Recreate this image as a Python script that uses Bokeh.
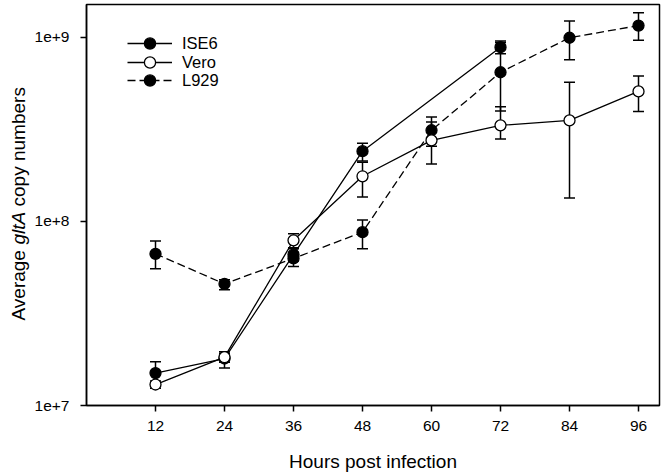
import math
from bokeh.plotting import figure
from bokeh.layouts import row
from bokeh.models import (ColumnDataSource, Whisker, TeeHead, FixedTicker, Legend,
                          LegendItem, CustomJSTickFormatter)
from bokeh.core.properties import value
from bokeh.embed import file_html
from bokeh.resources import INLINE

# ---------------- data ----------------
x_ticks = [12, 24, 36, 48, 60, 72, 84, 96]
y_ticks = [1e7, 1e8, 1e9]

ise6_hours = [12, 24, 36, 48, 72]
ise6 = [1.50e7, 1.80e7, 6.6e7, 2.41e8, 8.85e8]
ise6_upper = [1.73e7, 1.96e7, 7.1e7, 2.66e8, 9.55e8]
ise6_lower = [1.30e7, 1.60e7, 6.1e7, 2.13e8, 8.15e8]

vero_hours = [12, 24, 36, 48, 60, 72, 84, 96]
vero = [1.30e7, 1.83e7, 7.9e7, 1.76e8, 2.76e8, 3.33e8, 3.54e8, 5.09e8]
vero_upper = [1.36e7, 1.92e7, 8.57e7, 2.10e8, 3.47e8, 4.20e8, 5.71e8, 6.17e8]
vero_lower = [1.24e7, 1.72e7, 7.2e7, 1.36e8, 2.05e8, 2.81e8, 1.34e8, 3.96e8]

l929_hours = [12, 24, 36, 48, 60, 72, 84, 96]
l929 = [6.67e7, 4.58e7, 6.3e7, 8.75e7, 3.13e8, 6.47e8, 9.96e8, 1.16e9]
l929_upper = [7.82e7, 4.82e7, 6.8e7, 1.02e8, 3.69e8, 9.4e8, 1.23e9, 1.36e9]
l929_lower = [5.53e7, 4.26e7, 5.7e7, 7.1e7, 2.56e8, 3.98e8, 7.56e8, 9.64e8]

legend_order = ["ISE6", "Vero", "L929"]

FONT = "Liberation Sans"
W, H = 666, 476
LABEL_W = 30
BORDER_TOP, BORDER_BOTTOM = 4, 71
FRAME_H = H - BORDER_TOP - BORDER_BOTTOM

p = figure(width=W - LABEL_W, height=H, y_axis_type="log",
           x_range=(0, 99.65), y_range=(1e7, 1.51e9),
           output_backend="svg", toolbar_location=None,
           min_border_left=86 - LABEL_W, min_border_right=7,
           min_border_top=BORDER_TOP, min_border_bottom=BORDER_BOTTOM)
p.background_fill_color = "white"
p.border_fill_color = "white"
p.outline_line_color = "black"
p.outline_line_width = 1.5
p.xgrid.visible = False
p.ygrid.visible = False

p.xaxis.ticker = FixedTicker(ticks=x_ticks, minor_ticks=[])
p.yaxis.ticker = FixedTicker(ticks=y_ticks, minor_ticks=[])
p.yaxis.formatter = CustomJSTickFormatter(code='return "1e+" + Math.round(Math.log10(tick));')
for ax in (p.xaxis[0], p.yaxis[0]):
    ax.axis_line_color = "black"
    ax.axis_line_width = 1.5
    ax.major_tick_line_color = "black"
    ax.major_tick_line_width = 1.5
    ax.major_tick_in = 0
    ax.major_tick_out = 6
    ax.minor_tick_line_color = None
    ax.major_label_text_font = FONT
    ax.major_label_text_font_size = "15.5px"
    ax.major_label_text_color = "black"
p.xaxis.major_label_standoff = 9
p.yaxis.major_label_standoff = 11

p.xaxis.axis_label = "Hours post infection"
p.xaxis.axis_label_text_font = FONT
p.xaxis.axis_label_text_font_size = "19px"
p.xaxis.axis_label_text_font_style = "normal"
p.xaxis.axis_label_text_color = "black"
p.xaxis.axis_label_standoff = 17

series = [
    ("ISE6", ise6_hours, ise6, ise6_upper, ise6_lower, "solid", "black"),
    ("L929", l929_hours, l929, l929_upper, l929_lower, "8 4", "black"),
    ("Vero", vero_hours, vero, vero_upper, vero_lower, "solid", "white"),
]

rends = {}
for name, hx, hy, up, lo, dash, fill in series:
    src = ColumnDataSource(dict(x=hx, y=hy, upper=up, lower=lo))
    w = Whisker(base="x", upper="upper", lower="lower", source=src,
                line_color="black", line_width=1.5,
                upper_head=TeeHead(size=11, line_color="black", line_width=1.5),
                lower_head=TeeHead(size=11, line_color="black", line_width=1.5))
    p.add_layout(w)
    ln = p.line("x", "y", source=src, line_color="black", line_width=1.3, line_dash=dash)
    sc = p.scatter("x", "y", source=src, size=11, marker="circle",
                   fill_color=fill, line_color="black", line_width=1.3)
    rends[name] = (ln, sc)

# one single-item legend per row so that rows can sit closer than the glyph box
row_offsets = [347.7, 328.7, 310.7]
for name, vy in zip(legend_order, row_offsets):
    lg = Legend(items=[LegendItem(label=name, renderers=list(rends[name]))],
                location=(41, vy), glyph_width=45, glyph_height=28,
                padding=0, margin=0, label_standoff=10,
                border_line_color=None, background_fill_alpha=0,
                label_text_font=FONT, label_text_font_size="16.5px",
                label_text_color="black")
    p.add_layout(lg)

# y axis title panel (mixed roman / italic text); frame aligned with main plot
lab = figure(width=LABEL_W, height=H, x_range=(0, LABEL_W), y_range=(0, FRAME_H),
             x_axis_type=None, y_axis_type=None, output_backend="svg",
             toolbar_location=None, min_border_left=0, min_border_right=0,
             min_border_top=BORDER_TOP, min_border_bottom=BORDER_BOTTOM)
lab.outline_line_color = None
lab.xgrid.visible = False
lab.ygrid.visible = False
lab.background_fill_color = "white"
lab.border_fill_color = "white"

size_px = 19
w_average = 3.724 * size_px
w_space = 0.278 * size_px
w_glta = 1.723 * size_px
start = (H - BORDER_BOTTOM) - 320   # label begins at y=320 on the page
pieces = [("Average", start, "normal"),
          ("gltA", start + w_average + w_space, "italic"),
          ("copy numbers", start + w_average + 2 * w_space + w_glta, "normal")]
for txt, pos, style in pieces:
    lab.text(x=[18.3], y=[pos], text=[txt], angle=math.pi / 2,
             text_align="left", text_baseline="alphabetic",
             text_font=value(FONT), text_font_size=f"{size_px}px",
             text_font_style=style, text_color="black")

layout = row(lab, p)
open("out.html", "w").write(file_html(layout, INLINE))
